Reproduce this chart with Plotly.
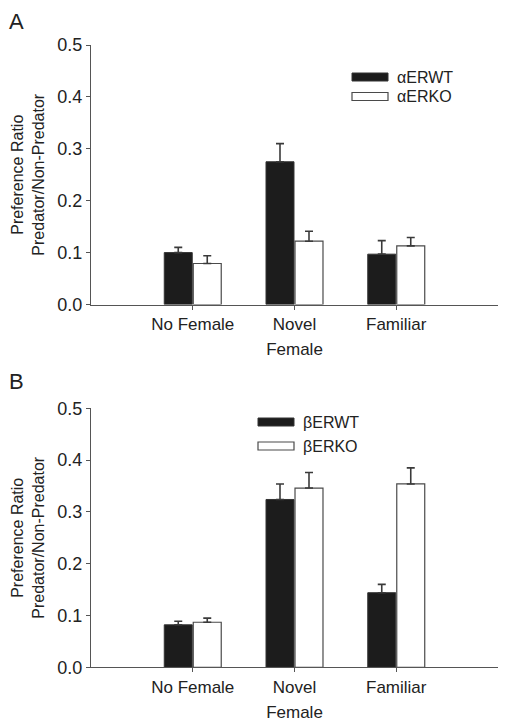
import plotly.graph_objects as go

categories = ["No Female", "Novel", "Familiar"]
y_ticks = [0.0, 0.1, 0.2, 0.3, 0.4, 0.5]
y_tick_labels = ["0.0", "0.1", "0.2", "0.3", "0.4", "0.5"]

a_names = ["αERWT", "αERKO"]
a_wt = [0.100, 0.275, 0.097]
a_wt_err = [0.010, 0.035, 0.026]
a_ko = [0.079, 0.122, 0.113]
a_ko_err = [0.015, 0.019, 0.016]

b_names = ["βERWT", "βERKO"]
b_wt = [0.082, 0.324, 0.144]
b_wt_err = [0.007, 0.030, 0.016]
b_ko = [0.087, 0.346, 0.354]
b_ko_err = [0.008, 0.030, 0.031]

W, H = 508, 727
FONT = "Liberation Sans, Arial, sans-serif"
DARK = "#1c1c1c"
EDGE = "#4a4a4a"
AXC = "#555555"
TXT = "#222222"


def px_x(x):
    return x / W


def px_y(y):
    return 1 - y / H


fig = go.Figure()


def add_panel(wt, wt_err, ko, ko_err, names, xa, ya):
    fig.add_trace(go.Bar(
        x=categories, y=wt, name=names[0], xaxis=xa, yaxis=ya,
        marker=dict(color=DARK, line=dict(color="#333333", width=1)),
        error_y=dict(type="data", symmetric=False, array=wt_err,
                     arrayminus=[0] * len(wt_err), color="#3a3a3a",
                     thickness=1.6, width=4),
        showlegend=False,
    ))
    fig.add_trace(go.Bar(
        x=categories, y=ko, name=names[1], xaxis=xa, yaxis=ya,
        marker=dict(color="white", line=dict(color=EDGE, width=1.2)),
        error_y=dict(type="data", symmetric=False, array=ko_err,
                     arrayminus=[0] * len(ko_err), color="#3a3a3a",
                     thickness=1.6, width=4),
        showlegend=False,
    ))


add_panel(a_wt, a_wt_err, a_ko, a_ko_err, a_names, "x", "y")
add_panel(b_wt, b_wt_err, b_ko, b_ko_err, b_names, "x2", "y2")

xdom = [px_x(91), px_x(498)]
ydomA = [px_y(304.5), px_y(45)]
ydomB = [px_y(667.3), px_y(408.3)]

xcommon = dict(
    domain=xdom, range=[-1, 3], type="category", automargin=False,
    showline=True, linecolor=AXC, linewidth=1.2,
    ticks="outside", ticklen=4, tickcolor=AXC, tickwidth=1,
    tickfont=dict(family=FONT, size=17, color=TXT),
    showgrid=False, zeroline=False,
    title=dict(text="Female", font=dict(family=FONT, size=17, color=TXT), standoff=10),
)
ycommon = dict(
    range=[0, 0.5], tickvals=y_ticks, ticktext=y_tick_labels, automargin=False,
    showline=True, linecolor=AXC, linewidth=1.2,
    ticks="outside", ticklen=4, tickcolor=AXC, tickwidth=1,
    tickfont=dict(family=FONT, size=18, color=TXT),
    showgrid=False, zeroline=False,
    title=dict(text="Preference Ratio<br>Predator/Non-Predator",
               font=dict(family=FONT, size=16, color=TXT), standoff=8),
)

fig.update_layout(
    width=W, height=H,
    margin=dict(l=0, r=0, t=0, b=0),
    paper_bgcolor="white", plot_bgcolor="white",
    barmode="group", bargap=0.43, bargroupgap=0.035,
    showlegend=False,
    xaxis=dict(anchor="y", **xcommon),
    yaxis=dict(anchor="x", domain=ydomA, **ycommon),
    xaxis2=dict(anchor="y2", **xcommon),
    yaxis2=dict(anchor="x2", domain=ydomB, **ycommon),
)

# panel letters
for letter, y in [("A", 7), ("B", 367)]:
    fig.add_annotation(text=letter, x=px_x(7), y=px_y(y), xref="paper", yref="paper",
                       xanchor="left", yanchor="top", showarrow=False,
                       font=dict(family=FONT, size=22, color=TXT))


# legends (drawn manually to get wide rectangle swatches)
def add_legend(names, x0, rows):
    styles = [dict(fillcolor=DARK, line=dict(color="#333333", width=1)),
              dict(fillcolor="white", line=dict(color=EDGE, width=1.2))]
    for name, yc, st in zip(names, rows, styles):
        fig.add_shape(type="rect", xref="paper", yref="paper",
                      x0=px_x(x0), x1=px_x(x0 + 36), y0=px_y(yc + 4), y1=px_y(yc - 4), **st)
        fig.add_annotation(text=name, x=px_x(x0 + 43), y=px_y(yc), xref="paper", yref="paper",
                           xanchor="left", yanchor="middle", showarrow=False,
                           font=dict(family=FONT, size=16, color=TXT))


add_legend(a_names, 352, [77, 96.5])
add_legend(b_names, 258, [422, 446])

fig.write_html("out.html", config={"displayModeBar": False},
               post_script="document.body.style.margin='0px';document.body.style.overflow='hidden';")
